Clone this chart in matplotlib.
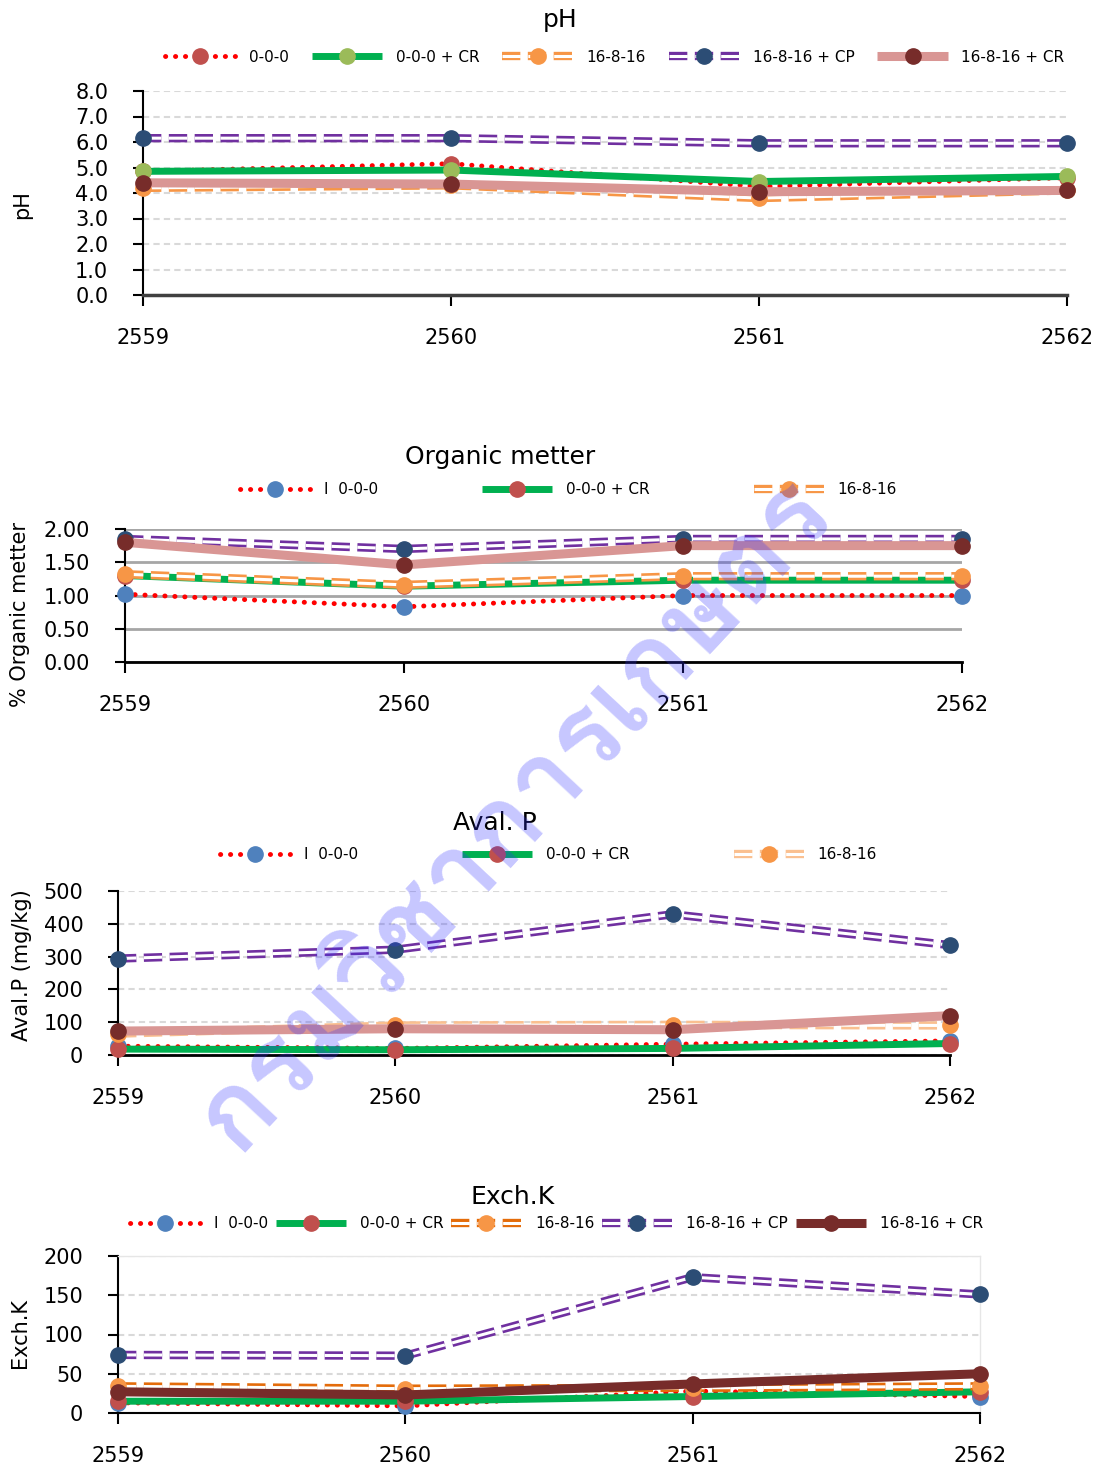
import numpy as np
import matplotlib
matplotlib.use("Agg")
import matplotlib.pyplot as plt
import matplotlib.patheffects as pe
from matplotlib import font_manager
from matplotlib.ft2font import FT2Font

# Data
years = [2559, 2560, 2561, 2562]
labels5 = ["0-0-0", "0-0-0 + CR", "16-8-16", "16-8-16 + CP", "16-8-16 + CR"]
labels5_k = ["I  0-0-0", "0-0-0 + CR", "16-8-16", "16-8-16 + CP", "16-8-16 + CR"]
labels3 = ["I  0-0-0", "0-0-0 + CR", "16-8-16"]

ph_000 = [4.85, 5.15, 4.25, 4.6]
ph_000_cr = [4.85, 4.9, 4.45, 4.65]
ph_16816 = [4.2, 4.3, 3.8, 4.1]
ph_16816_cp = [6.15, 6.15, 5.95, 5.95]
ph_16816_cr = [4.4, 4.35, 4.05, 4.1]

om_000 = [1.02, 0.83, 1.00, 1.00]
om_000_cr = [1.30, 1.14, 1.23, 1.23]
om_16816 = [1.32, 1.16, 1.29, 1.29]
om_16816_cp = [1.85, 1.70, 1.85, 1.85]
om_16816_cr = [1.80, 1.46, 1.75, 1.75]

p_000 = [27, 20, 33, 43]
p_000_cr = [18, 16, 20, 35]
p_16816 = [65, 90, 92, 90]
p_16816_cp = [294, 321, 429, 335]
p_16816_cr = [73, 80, 77, 120]

k_000 = [13, 9, 28, 21]
k_000_cr = [15, 15, 21, 27]
k_16816 = [34, 31, 32, 34]
k_16816_cp = [74, 73, 173, 151]
k_16816_cr = [27, 23, 37, 50]

# colours
RED, GREEN, PURPLE, PINK = "#FF0000", "#00B050", "#7030A0", "#D99694"
ORANGE, ORANGE_LT, ORANGE_DK = "#F79646", "#FAC090", "#E46C0A"
M_RED, M_LGREEN, M_BLUE = "#C0504D", "#9BBB59", "#4F81BD"
M_ORANGE, M_NAVY, M_DARKRED = "#F79646", "#2C4D75", "#772C2A"

plt.rcParams["font.family"] = ["DejaVu Sans"]

fig = plt.figure(figsize=(11.2, 14.72), dpi=100)
W, H = 1120.0, 1472.0


def series(ax, y, kind, color, mcolor, z, lw=5):
    if kind == "dot":
        ln, = ax.plot(years, y, color=color, lw=3.5, ls=(0, (0.05, 2.0)),
                      dash_capstyle="round", zorder=z)
    elif kind == "double":
        # two thin parallel dashed lines, like Excel's "double" compound line
        ln, = ax.plot(years, y, color=color, lw=6, ls=(0, (2.2, 0.9)), zorder=z,
                      path_effects=[pe.Stroke(linewidth=6, foreground=color),
                                    pe.Stroke(linewidth=2.2, foreground="white")])
    else:
        ln, = ax.plot(years, y, color=color, lw=lw, solid_capstyle="butt", zorder=z)
    mk, = ax.plot(years, y, ls="none", marker="o", ms=11, mfc=mcolor, mec=mcolor,
                  clip_on=False, zorder=z + 0.5)
    return (ln, mk)


def make_axes(rect, ylim, yticks, fmt, bottom_color="black", bottom_lw=2):
    l, t, r, b = rect
    ax = fig.add_axes([l / W, 1 - b / H, (r - l) / W, (b - t) / H])
    ax.set_xlim(2559, 2562)
    ax.set_ylim(*ylim)
    ax.set_yticks(yticks)
    ax.set_yticklabels([fmt % v for v in yticks])
    ax.set_xticks(years)
    ax.set_xticklabels([str(v) for v in years])
    ax.tick_params(axis="x", length=8, width=1.5, pad=16, labelsize=15, direction="out")
    ax.tick_params(axis="y", length=7, width=1.5, pad=18, labelsize=15, direction="out")
    for s in ["top", "right"]:
        ax.spines[s].set_visible(False)
    ax.spines["left"].set_linewidth(1.5)
    ax.spines["bottom"].set_linewidth(bottom_lw)
    ax.spines["bottom"].set_color(bottom_color)
    ax.set_axisbelow(True)
    return ax


def legend(handles, labels, x_left, y, spacing):
    fig.legend(handles, labels, loc="center left", bbox_to_anchor=(x_left / W, 1 - y / H),
               ncol=len(labels), frameon=False, fontsize=11, handlelength=4.6,
               handletextpad=0.9, columnspacing=spacing, borderpad=0, borderaxespad=0)


# ---- pH ----
ax1 = make_axes((143, 91, 1067, 295), (0, 8), np.arange(0, 8.1, 1.0), "%.1f",
                bottom_color="#404040", bottom_lw=2.5)
ax1.yaxis.grid(True, color="#D9D9D9", ls=(0, (3, 2)), lw=1.5)
h1 = [series(ax1, ph_000, "dot", RED, M_RED, 3),
      series(ax1, ph_000_cr, "solid", GREEN, M_LGREEN, 4, lw=5),
      series(ax1, ph_16816, "double", ORANGE, M_ORANGE, 5),
      series(ax1, ph_16816_cp, "double", PURPLE, M_NAVY, 6),
      series(ax1, ph_16816_cr, "solid", PINK, M_DARKRED, 7, lw=6.5)]
fig.text(560 / W, 1 - 20 / H, "pH", ha="center", va="center", fontsize=18)
fig.text(22 / W, 1 - 205 / H, "pH", ha="center", va="center", rotation=90, fontsize=15)
legend(h1, labels5, 165, 57, 1.5)

# ---- Organic matter ----
ax2 = make_axes((125, 529, 962, 662), (0, 2), np.arange(0, 2.01, 0.5), "%.2f")
ax2.yaxis.grid(True, color="#A6A6A6", ls="-", lw=2)
h2 = [series(ax2, om_000, "dot", RED, M_BLUE, 3),
      series(ax2, om_000_cr, "solid", GREEN, M_RED, 4, lw=5),
      series(ax2, om_16816, "double", ORANGE, M_ORANGE, 5),
      series(ax2, om_16816_cp, "double", PURPLE, M_NAVY, 6),
      series(ax2, om_16816_cr, "solid", PINK, M_DARKRED, 7, lw=6.5)]
fig.text(500 / W, 1 - 457 / H, "Organic metter", ha="center", va="center", fontsize=18)
fig.text(20 / W, 1 - 614 / H, "% Organic metter", ha="center", va="center", rotation=90, fontsize=15)
legend(h2[:3], labels3, 240, 490, 6.8)

# ---- Aval. P ----
ax3 = make_axes((118, 891, 950, 1055), (0, 500), np.arange(0, 501, 100), "%d")
ax3.yaxis.grid(True, color="#D9D9D9", ls=(0, (3, 2)), lw=1.5)
h3 = [series(ax3, p_000, "dot", RED, M_BLUE, 3),
      series(ax3, p_000_cr, "solid", GREEN, M_RED, 4, lw=5),
      series(ax3, p_16816, "double", ORANGE_LT, M_ORANGE, 5),
      series(ax3, p_16816_cp, "double", PURPLE, M_NAVY, 6),
      series(ax3, p_16816_cr, "solid", PINK, M_DARKRED, 7, lw=6.5)]
fig.text(495 / W, 1 - 823 / H, "Aval. P", ha="center", va="center", fontsize=18)
fig.text(22 / W, 1 - 965 / H, "Aval.P (mg/kg)", ha="center", va="center", rotation=90, fontsize=15)
legend(h3[:3], labels3, 220, 855, 6.8)

# ---- Exch.K ----
ax4 = make_axes((118, 1256, 980, 1413), (0, 200), np.arange(0, 201, 50), "%d", bottom_lw=1.5)
ax4.yaxis.grid(True, color="#D9D9D9", ls=(0, (3, 2)), lw=1.5)
for s in ["top", "right"]:
    ax4.spines[s].set_visible(True)
    ax4.spines[s].set_color("#E6E6E6")
    ax4.spines[s].set_linewidth(1)
h4 = [series(ax4, k_000, "dot", RED, M_BLUE, 3),
      series(ax4, k_000_cr, "solid", GREEN, M_RED, 4, lw=5),
      series(ax4, k_16816, "double", ORANGE_DK, M_ORANGE, 5),
      series(ax4, k_16816_cp, "double", PURPLE, M_NAVY, 6),
      series(ax4, k_16816_cr, "solid", M_DARKRED, M_DARKRED, 7, lw=6.5)]
fig.text(513 / W, 1 - 1197 / H, "Exch.K", ha="center", va="center", fontsize=18)
fig.text(20 / W, 1 - 1333 / H, "Exch.K", ha="center", va="center", rotation=90, fontsize=15)
legend(h4, labels5_k, 130, 1224, 0.5)

# watermark, only if some installed font has Thai glyphs
thai_font = None
for f in font_manager.fontManager.ttflist:
    try:
        if 0x0E01 in FT2Font(f.fname).get_charmap():
            thai_font = f.name
            break
    except Exception:
        pass
if thai_font:
    fig.text(515 / W, 1 - 815 / H, "กรมวิชาการเกษตร", ha="center", va="center",
             rotation=47, fontsize=78, fontweight="bold", color="#3333FF", alpha=0.28,
             family=[thai_font], zorder=20)

fig.savefig("out.png", dpi=100)
